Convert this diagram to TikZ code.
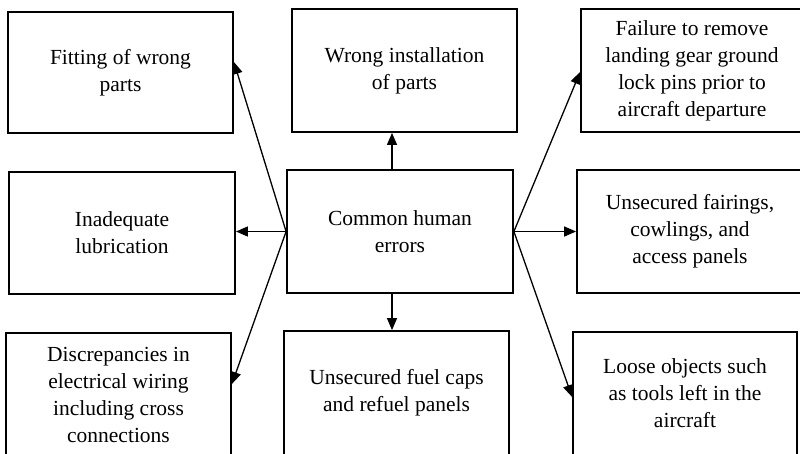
\documentclass[tikz,border=0pt]{standalone}
\usepackage{fontspec}
\setmainfont{Liberation Serif}
\usetikzlibrary{arrows.meta}
\begin{document}
\begin{tikzpicture}[x=1pt,y=-1pt,
  errbox/.style={draw, line width=1.8pt, align=center, inner sep=0pt,
    font=\fontsize{21.5pt}{27pt}\selectfont},
  link/.style={line width=1.3pt, -{Triangle[length=12pt,width=10pt]}}]
\clip (0,0) rectangle (800,453);
\fill[white] (0,0) rectangle (800,453);
% central cause
\node[errbox, minimum width=226pt, minimum height=123pt] (c) at (400,231.5) {Common human\\errors};
% surrounding error types
\node[errbox, minimum width=225pt, minimum height=121pt] (tl) at (120.5,72.5) {Fitting of wrong\\parts};
\node[errbox, minimum width=225pt, minimum height=123pt] (tm) at (404.5,70.5) {Wrong installation\\of parts};
\node[errbox, minimum width=222pt, minimum height=123pt] (tr) at (692,70.5) {Failure to remove\\landing gear ground\\lock pins prior to\\aircraft departure};
\node[errbox, minimum width=226pt, minimum height=122pt] (ml) at (122,233) {Inadequate\\lubrication};
\node[errbox, minimum width=226pt, minimum height=123pt] (mr) at (690,231.5) {Unsecured fairings,\\cowlings, and\\access panels};
\node[errbox, minimum width=225pt, minimum height=123pt] (bl) at (118.5,394.5) {Discrepancies in\\electrical wiring\\including cross\\connections};
\node[errbox, minimum width=225pt, minimum height=124pt] (bm) at (396.5,393) {Unsecured fuel caps\\and refuel panels};
\node[errbox, minimum width=224pt, minimum height=123pt] (br) at (685,393.5) {Loose objects such\\as tools left in the\\aircraft};
% connectors
\draw[link] (c.west) -- (tl.east |- 0,62);
\draw[link] (c.west) -- (ml.east |- c.west);
\draw[link] (c.west) -- (bl.east |- 0,384);
\draw[link] (c.north -| 392,0) -- (tm.south -| 392,0);
\draw[link] (c.south -| 392,0) -- (bm.north -| 392,0);
\draw[link] (c.east) -- (tr.west |- 0,72);
\draw[link] (c.east) -- (mr.west |- c.east);
\draw[link] (c.east) -- (br.west |- 0,397);
\end{tikzpicture}
\end{document}
